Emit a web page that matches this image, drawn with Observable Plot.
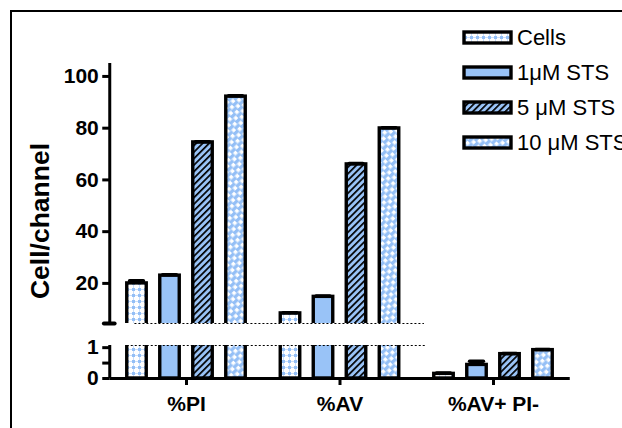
<!DOCTYPE html>
<html><head><meta charset="utf-8">
<script src="https://cdn.jsdelivr.net/npm/d3@7"></script>
<script src="https://cdn.jsdelivr.net/npm/@observablehq/plot@0.6"></script>
<style>
html,body{margin:0;padding:0;background:#fff;}
#wrap{position:relative;width:622px;height:428px;overflow:hidden;background:#fff;}
#chart{position:absolute;left:0;top:0;}
#legend{position:absolute;left:440px;top:0;}
#frame{position:absolute;left:10px;top:10px;width:700px;height:600px;border-left:2px solid #000;border-top:2px solid #000;pointer-events:none;}
</style></head><body>
<svg width="0" height="0" style="position:absolute">
<defs>
  <pattern id="pCells" width="6" height="6" patternUnits="userSpaceOnUse">
    <rect width="6" height="6" fill="#fff"/>
    <rect x="0" y="0" width="3" height="3" fill="#94bff6"/>
    <rect x="3" y="1" width="3" height="1" fill="#c8defb"/>
    <rect x="1" y="3" width="1" height="3" fill="#c8defb"/>
  </pattern>
  <pattern id="p5" width="4.6" height="4.6" patternUnits="userSpaceOnUse" patternTransform="rotate(45)">
    <rect width="4.6" height="4.6" fill="#99c3f7"/>
    <rect width="1.7" height="4.6" fill="#000"/>
  </pattern>
  <pattern id="p10" width="10" height="7" patternUnits="userSpaceOnUse" patternTransform="rotate(-45)">
    <rect width="10" height="7" fill="#fff"/>
    <rect x="0" y="0" width="6.5" height="3.4" fill="#94bff6"/>
    <rect x="5" y="3.5" width="6.5" height="3.4" fill="#94bff6"/>
    <rect x="-5" y="3.5" width="6.5" height="3.4" fill="#94bff6"/>
  </pattern>
</defs>
</svg>
<div id="wrap"><div id="chart"></div><div id="legend"></div><div id="frame"></div></div>
<script>
// ---- data ----
const groups = ["%PI", "%AV", "%AV+ PI-"];
const series = ["Cells", "1μM STS", "5 μM STS", "10 μM STS"];
const valuesPI = [20.0, 23.0, 74.5, 92.2];
const valuesAV = [8.4, 14.8, 66.0, 79.9];
const valuesAVPI = [0.15, 0.44, 0.79, 0.92];
const errPI = [1.0, 0.3, 0.3, 0.3];
const errAV = [0.3, 0.3, 0.3, 0.3];
const errAVPI = [0.03, 0.12, 0.02, 0.02];
const yTicks = [0, 0.5, 1, 20, 40, 60, 80, 100];
const yTickLabels = ["0", "", "1", "20", "40", "60", "80", "100"];
const fills = ["url(#pCells)", "#99c3f7", "url(#p5)", "url(#p10)"];

// broken axis segments
const lowTop = 1.07, highBottom = 4.5, highTop = 105;

const allValues = [valuesPI, valuesAV, valuesAVPI];
const allErr = [errPI, errAV, errAVPI];
const rows = [];
groups.forEach((g, gi) => series.forEach((s, si) =>
  rows.push({group: g, gi, series: s, si, value: allValues[gi][si], err: allErr[gi][si]})));

const pitch = 0.215, halfW = 0.0635, capW = 0.045;
const cx = d => d.gi + (d.si - 1.5) * pitch;
const brokenLeft = 0 - 1.5 * pitch - halfW;
const brokenRight = 1.5 + 0.06;

const font = "'Liberation Sans', Arial, Helvetica, sans-serif";
const color = {type: "ordinal", domain: series, range: fills};

const chart = Plot.plot({
  width: 622, height: 428,
  marginLeft: 109.25, marginRight: 52.25, marginTop: 63, marginBottom: 50,
  x: {type: "linear", domain: [-0.5, 2.5]},
  y: {type: "linear", domain: [0, lowTop, highBottom, highTop], range: [378, 345, 323, 63]},
  color,
  style: {fontFamily: font, fontSize: "21px", fontWeight: "bold", background: "transparent", color: "#000"},
  marks: [
    Plot.rect(rows, {x1: d => cx(d) - halfW, x2: d => cx(d) + halfW, y1: 0, y2: "value",
      fill: "series", stroke: "#000", strokeWidth: 3.4}),
    Plot.ruleX(rows, {x: cx, y1: "value", y2: d => d.value + d.err, strokeWidth: 3}),
    Plot.ruleY(rows, {y: d => d.value + d.err, x1: d => cx(d) - capW, x2: d => cx(d) + capW,
      strokeWidth: 3.5, strokeLinecap: "round"}),
    // gap of the broken axis
    Plot.rect([0], {x1: -0.5, x2: 2.5, y1: lowTop, y2: highBottom, fill: "#fff"}),
    Plot.ruleY([lowTop], {x1: brokenLeft, x2: brokenRight, strokeDasharray: "2,2", strokeWidth: 1.2}),
    Plot.ruleY([highBottom], {x1: brokenLeft + 0.05, x2: brokenRight - 0.01, strokeDasharray: "2,2", strokeWidth: 1.2}),
    // axis lines
    Plot.ruleY([0], {strokeWidth: 3}),
    Plot.ruleX([-0.5], {y1: 0, y2: lowTop, strokeWidth: 3}),
    Plot.ruleX([-0.5], {y1: highBottom, y2: highTop, strokeWidth: 3}),
    Plot.ruleY([highBottom], {x1: -0.535, x2: -0.465, strokeWidth: 4, strokeLinecap: "round"}),
    Plot.axisY({ticks: yTicks, tickFormat: d => yTickLabels[yTicks.indexOf(d)], tickSize: 7, tickPadding: 4,
      strokeWidth: 3, label: null}),
    Plot.axisX({ticks: [0, 1, 2], tickFormat: i => groups[i], tickSize: 7, tickPadding: 11,
      strokeWidth: 3, label: null}),
    Plot.text(["Cell/channel"], {frameAnchor: "left", rotate: -90, dx: -69, fontSize: 26.5,
      fontWeight: "bold", textAnchor: "middle", lineAnchor: "middle"})
  ]
});
document.getElementById("chart").appendChild(chart);

const legend = Plot.plot({
  width: 182, height: 170, margin: 0,
  x: {type: "band", domain: ["swatch"], range: [24, 71], padding: 0, axis: null},
  y: {type: "band", domain: series, range: [19.5, 159.5], padding: 0, axis: null},
  color,
  style: {fontFamily: font, fontSize: "22px", background: "transparent", color: "#000"},
  marks: [
    Plot.cell(series, {x: () => "swatch", y: d => d, fill: d => d, stroke: "#000", strokeWidth: 3.4,
      insetTop: 12, insetBottom: 12}),
    Plot.text(series, {x: () => "swatch", y: d => d, text: d => d, textAnchor: "start", dx: 29,
      fontSize: 22, lineAnchor: "middle"})
  ]
});
document.getElementById("legend").appendChild(legend);
</script>
</body></html>
